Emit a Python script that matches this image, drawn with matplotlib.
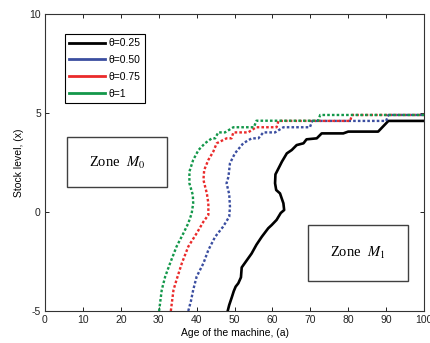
import matplotlib
matplotlib.use("Agg")
import matplotlib.pyplot as plt
from matplotlib.patches import Rectangle

plt.rcParams['font.family'] = 'Liberation Sans'
plt.rcParams['mathtext.fontset'] = 'stix'
plt.rcParams['axes.unicode_minus'] = False

# optimal policy boundaries for each theta: age of machine (a) vs stock level (x)
a_025 = [48.2, 48.6, 49.3, 49.8, 50.3, 51.0, 51.7, 51.9, 53.2, 54.5, 55.8, 57.2, 58.9, 59.8,
         61.1, 62.2, 63.1, 62.9, 62.0, 61.0, 60.7, 60.8, 61.6, 62.0, 62.5, 63.8, 65.1, 66.4,
         68.2, 69.0, 71.7, 73.0, 78.7, 80.0, 87.9, 90.6, 100]
x_025 = [-5, -4.7, -4.3, -4.0, -3.77, -3.6, -3.3, -2.8, -2.45, -2.1, -1.65, -1.25, -0.82, -0.66,
         -0.4, -0.05, 0.1, 0.44, 0.94, 1.11, 1.45, 1.9, 2.2, 2.35, 2.54, 2.96, 3.13, 3.38,
         3.47, 3.67, 3.72, 3.97, 3.97, 4.06, 4.06, 4.6, 4.6]

a_050 = [37.8, 38.5, 39.1, 40.0, 41.8, 43.1, 44.9, 47.0, 48.6, 48.8, 48.6, 47.9, 48.4, 48.8,
         50.1, 52.3, 54.5, 56.3, 57.6, 60.7, 62.9, 69.9, 70.5, 90.0, 90.6, 100]
x_050 = [-5, -4.5, -3.94, -3.27, -2.59, -1.92, -1.25, -0.74, -0.24, 0.27, 0.9, 1.45, 1.78, 2.46,
         2.96, 3.47, 3.72, 3.72, 4.02, 4.02, 4.28, 4.28, 4.6, 4.6, 4.9, 4.9]

a_075 = [33.2, 33.9, 34.7, 36.1, 37.8, 40.0, 41.8, 43.1, 43.1, 42.7, 41.8, 42.0, 43.1, 44.4,
         45.3, 47.9, 49.2, 49.7, 53.6, 55.7, 61.1, 61.6, 80.5, 81.0, 100]
x_075 = [-5, -3.94, -3.43, -2.59, -1.75, -1.08, -0.49, -0.15, 0.44, 0.94, 1.62, 2.12, 2.63, 3.05,
         3.47, 3.72, 3.72, 4.02, 4.02, 4.28, 4.28, 4.6, 4.6, 4.9, 4.9]

a_1 = [30.1, 30.8, 31.7, 33.0, 34.7, 36.5, 37.8, 38.7, 39.1, 39.0, 38.1, 38.1, 39.1, 40.5,
       42.2, 44.0, 44.9, 45.7, 47.5, 49.7, 55.1, 55.8, 72.1, 72.6, 100]
x_1 = [-5, -3.94, -3.27, -2.59, -1.75, -1.08, -0.57, -0.07, 0.44, 0.86, 1.45, 2.04, 2.63, 3.13,
       3.47, 3.72, 3.72, 4.02, 4.02, 4.28, 4.28, 4.61, 4.61, 4.9, 4.9]

fig = plt.figure(figsize=(4.31, 3.43), dpi=100)
ax = fig.add_axes([0.1044, 0.0933, 0.8794, 0.8659])

dots = (0, (1.1, 0.9))
ax.plot(a_025, x_025, color='black', lw=1.9, label='θ=0.25')
ax.plot(a_050, x_050, color='#3b4ea0', lw=1.7, ls=dots, label='θ=0.50')
ax.plot(a_075, x_075, color='#ea2a2a', lw=1.7, ls=dots, label='θ=0.75')
ax.plot(a_1, x_1, color='#13974a', lw=1.7, ls=dots, label='θ=1')

# zone boxes
ax.add_patch(Rectangle((5.9, 1.25), 26.4, 2.55, fill=False, ec='#404040', lw=1.0))
ax.text(19.1, 2.5, r'Zone  $M_0$', ha='center', va='center', fontsize=10.5,
        family='Liberation Serif')
ax.add_patch(Rectangle((69.5, -3.48), 26.2, 2.82, fill=False, ec='#404040', lw=1.0))
ax.text(82.6, -2.07, r'Zone  $M_1$', ha='center', va='center', fontsize=10.5,
        family='Liberation Serif')

ax.set_xlim(0, 100)
ax.set_ylim(-5, 10)
ax.set_xticks(range(0, 101, 10))
ax.set_yticks([-5, 0, 5, 10])
ax.tick_params(direction='in', top=True, right=True, length=3, width=0.7,
               labelsize=7.5, pad=3, colors='#222222')
for s in ax.spines.values():
    s.set_linewidth(0.8)
    s.set_color('#333333')

ax.set_xlabel('Age of the machine, (a)', fontsize=7.5, labelpad=2)
ax.set_ylabel('Stock level, (x)', fontsize=7.5, labelpad=4)

leg = ax.legend(loc='upper left', bbox_to_anchor=(0.053, 0.932), borderaxespad=0,
                fontsize=7.5, handlelength=3.4, labelspacing=0.65, fancybox=False,
                edgecolor='black', framealpha=1, handletextpad=0.4)
leg.get_frame().set_linewidth(0.8)
for h in leg.get_lines():
    h.set_linestyle('-')
    h.set_linewidth(2.0)

fig.savefig('out.png', dpi=100)
